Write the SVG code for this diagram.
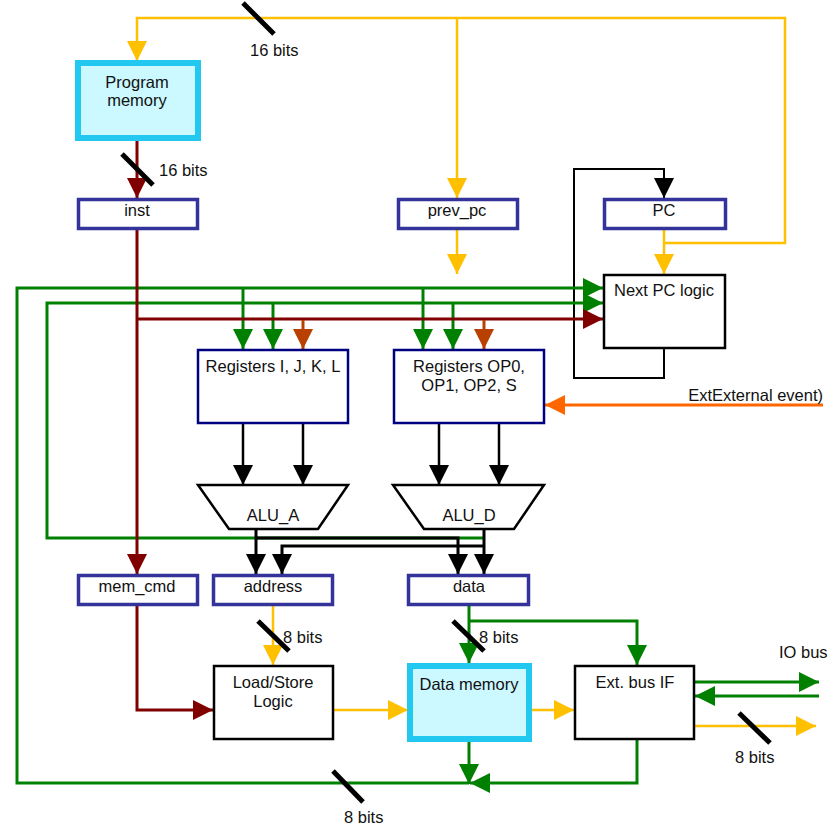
<svg xmlns="http://www.w3.org/2000/svg" width="836" height="828" viewBox="0 0 836 828">
<style>
text{font-family:"Liberation Sans",Arial,sans-serif;font-size:16.5px;fill:#111}
.c{text-anchor:middle}
.w{fill:none;stroke-linejoin:miter}
.y{stroke:#ffc000;stroke-width:2.5}
.m{stroke:#800000;stroke-width:3}
.g{stroke:#008000;stroke-width:3}
.k{stroke:#000;stroke-width:2.5}
.kb{stroke:#000;stroke-width:3}
.r{stroke:#b84000;stroke-width:3}
.o{stroke:#ff6600;stroke-width:3}
.sl{stroke:#000;stroke-width:5}
.mem{fill:#ccf8ff;stroke:#22c8f0;stroke-width:6}
.reg{fill:#fff;stroke:#333399;stroke-width:3.5}
.big{fill:#fff;stroke:#000080;stroke-width:2.5}
.blk{fill:#fff;stroke:#000;stroke-width:2.5}
</style>
<defs>
<marker id="aY" viewBox="0 0 20 20" refX="20" refY="10" markerWidth="20" markerHeight="20" markerUnits="userSpaceOnUse" orient="auto"><path d="M0,0L20,10L0,20z" fill="#ffc000"/></marker>
<marker id="aM" viewBox="0 0 20 20" refX="20" refY="10" markerWidth="20" markerHeight="20" markerUnits="userSpaceOnUse" orient="auto"><path d="M0,0L20,10L0,20z" fill="#800000"/></marker>
<marker id="aG" viewBox="0 0 20 20" refX="20" refY="10" markerWidth="20" markerHeight="20" markerUnits="userSpaceOnUse" orient="auto"><path d="M0,0L20,10L0,20z" fill="#008000"/></marker>
<marker id="aK" viewBox="0 0 20 20" refX="20" refY="10" markerWidth="20" markerHeight="20" markerUnits="userSpaceOnUse" orient="auto"><path d="M0,0L20,10L0,20z" fill="#000"/></marker>
<marker id="aR" viewBox="0 0 20 20" refX="20" refY="10" markerWidth="20" markerHeight="20" markerUnits="userSpaceOnUse" orient="auto"><path d="M0,0L20,10L0,20z" fill="#b84000"/></marker>
<marker id="aO" viewBox="0 0 20 20" refX="20" refY="10" markerWidth="20" markerHeight="20" markerUnits="userSpaceOnUse" orient="auto"><path d="M0,0L20,10L0,20z" fill="#ff6600"/></marker>
</defs>
<rect width="836" height="828" fill="#fff"/>
<g id="connectors">
<path class="w k" style="stroke-width:2" d="M664,349V378H574V169H664V198" marker-end="url(#aK)"/>
<path class="w y" d="M664,230V274" marker-end="url(#aY)"/>
<path class="w y" d="M664,243H785V18H137V61" marker-end="url(#aY)"/>
<path class="w y" d="M457,18V198" marker-end="url(#aY)"/>
<path class="w y" d="M457,230V274" marker-end="url(#aY)"/>
<path class="w y" d="M273,606V665" marker-end="url(#aY)"/>
<path class="w y" d="M333,710H408" marker-end="url(#aY)"/>
<path class="w y" d="M532,710H574" marker-end="url(#aY)"/>
<path class="w y" d="M695,726H816" marker-end="url(#aY)"/>
<path class="w g" d="M469,783H17V288H603" marker-end="url(#aG)"/>
<path class="w g" d="M484,538H47V303H603" marker-end="url(#aG)"/>
<path class="w g" d="M243,288V349" marker-end="url(#aG)"/>
<path class="w g" d="M423,288V349" marker-end="url(#aG)"/>
<path class="w g" d="M273,303V349" marker-end="url(#aG)"/>
<path class="w g" d="M453,303V349" marker-end="url(#aG)"/>
<path class="w m" d="M137,141V198" marker-end="url(#aM)"/>
<path class="w m" d="M137,230V574" marker-end="url(#aM)"/>
<path class="w m" d="M137,319H603" marker-end="url(#aM)"/>
<path class="w m" d="M137,606V710H213" marker-end="url(#aM)"/>
<path class="w r" d="M303,320V349" marker-end="url(#aR)"/>
<path class="w r" d="M484,320V349" marker-end="url(#aR)"/>
<path class="w k" d="M243,424V485" marker-end="url(#aK)"/>
<path class="w k" d="M303,424V485" marker-end="url(#aK)"/>
<path class="w k" d="M439,424V485" marker-end="url(#aK)"/>
<path class="w k" d="M499,424V485" marker-end="url(#aK)"/>
<path class="w kb" d="M256,529V574" marker-end="url(#aK)"/>
<path class="w kb" d="M256,538H458V574" marker-end="url(#aK)"/>
<path class="w kb" d="M484,529V574" marker-end="url(#aK)"/>
<path class="w kb" d="M484,546H282V574" marker-end="url(#aK)"/>
<path class="w o" d="M823,405H545" marker-end="url(#aO)"/>
<path class="w g" d="M469,606V663" marker-end="url(#aG)"/>
<path class="w g" d="M469,621H637V665" marker-end="url(#aG)"/>
<path class="w g" d="M469,742V784" marker-end="url(#aG)"/>
<path class="w g" d="M637,740V783H470" marker-end="url(#aG)"/>
<path class="w g" d="M695,682H819" marker-end="url(#aG)"/>
<path class="w g" d="M819,696H695" marker-end="url(#aG)"/>
<line class="sl" x1="243" y1="3" x2="274" y2="34"/>
<line class="sl" x1="122" y1="154" x2="153" y2="185"/>
<line class="sl" x1="258" y1="621" x2="289" y2="651"/>
<line class="sl" x1="453" y1="621" x2="484" y2="651"/>
<line class="sl" x1="739" y1="713" x2="770" y2="743"/>
<line class="sl" x1="333" y1="771" x2="363" y2="802"/>
<text x="250" y="56">16 bits</text>
<text x="159" y="176">16 bits</text>
<text x="283" y="643">8 bits</text>
<text x="479" y="643">8 bits</text>
<text x="735" y="763">8 bits</text>
<text x="344" y="823">8 bits</text>
<text x="779" y="658">IO bus</text>
<text x="823" y="401" text-anchor="end">ExtExternal event)</text>
</g>
<g id="program-memory"><rect class="mem" x="78" y="63" width="120" height="75"/><text class="c" x="137" y="88">Program</text><text class="c" x="137" y="106">memory</text></g>
<g id="inst"><rect class="reg" x="78.5" y="199.5" width="119" height="29"/><text class="c" x="137" y="216">inst</text></g>
<g id="prev_pc"><rect class="reg" x="398.5" y="199.5" width="119" height="29"/><text class="c" x="457" y="216">prev_pc</text></g>
<g id="pc"><rect class="reg" x="604.5" y="199.5" width="121" height="29"/><text class="c" x="664" y="216">PC</text></g>
<g id="next-pc-logic"><rect class="blk" x="604" y="275" width="121" height="73"/><text class="c" x="664" y="296">Next PC logic</text></g>
<g id="regs-ijkl"><rect class="big" x="198" y="350" width="150" height="73"/><text class="c" x="273" y="372">Registers I, J, K, L</text></g>
<g id="regs-op"><rect class="big" x="394" y="350" width="150" height="73"/><text class="c" x="469" y="372">Registers OP0,</text><text class="c" x="469" y="391">OP1, OP2, S</text></g>
<g id="alu-a"><path d="M198,485H348L318,529H229Z" fill="#fff" stroke="#000" stroke-width="2.5"/><text class="c" x="273" y="521">ALU_A</text></g>
<g id="alu-d"><path d="M393,485H544L514,529H424Z" fill="#fff" stroke="#000" stroke-width="2.5"/><text class="c" x="469" y="521">ALU_D</text></g>
<g id="mem_cmd"><rect class="reg" x="78.5" y="575.5" width="119" height="29"/><text class="c" x="137" y="592">mem_cmd</text></g>
<g id="address"><rect class="reg" x="213.5" y="575.5" width="119" height="29"/><text class="c" x="273" y="592">address</text></g>
<g id="data"><rect class="reg" x="408.5" y="575.5" width="120" height="29"/><text class="c" x="469" y="592">data</text></g>
<g id="load-store"><rect class="blk" x="214" y="666" width="119" height="73"/><text class="c" x="273" y="688">Load/Store</text><text class="c" x="273" y="707">Logic</text></g>
<g id="data-memory"><rect class="mem" x="410" y="666" width="119" height="73"/><text class="c" x="469" y="690">Data memory</text></g>
<g id="ext-bus-if"><rect class="blk" x="575" y="666" width="119" height="73"/><text class="c" x="635" y="688">Ext. bus IF</text></g>
</svg>
